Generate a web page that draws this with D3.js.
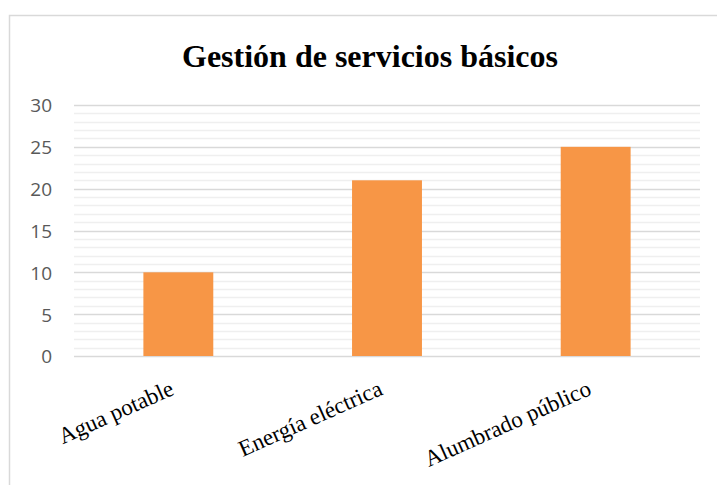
<!DOCTYPE html>
<html>
<head>
<meta charset="utf-8">
<script src="https://cdn.jsdelivr.net/npm/d3@7"></script>
<style>
  body { margin: 0; background: #fff; }
</style>
</head>
<body>
<svg width="717" height="485"></svg>
<script>
var categories = ["Agua potable", "Energía eléctrica", "Alumbrado público"];
var values = [10, 21, 25];
var majorTicks = [0, 5, 10, 15, 20, 25, 30];
var minorTicks = d3.range(0, 31, 1);
var title = "Gestión de servicios básicos";

var svg = d3.select("svg"),
  width = +svg.attr("width"),
  height = +svg.attr("height");

// chart frame
svg.append("rect")
  .attr("x", 9.5).attr("y", 15.5)
  .attr("width", 740).attr("height", 500)
  .attr("fill", "white")
  .attr("stroke", "#d9d9d9")
  .attr("stroke-width", 1.5);

var plotLeft = 74, plotRight = 700, plotTop = 105, plotBottom = 356;

var x = d3.scaleBand().domain(categories).range([plotLeft, plotRight]).paddingInner(0.665).paddingOuter(0.3325);
var y = d3.scaleLinear().domain([0, 30]).range([plotBottom, plotTop]);

// minor grid
svg.append("g").selectAll("line")
  .data(minorTicks.filter(d => d % 5 != 0))
  .enter().append("line")
  .attr("x1", plotLeft).attr("x2", plotRight)
  .attr("y1", d => Math.round(y(d)) + 0.5).attr("y2", d => Math.round(y(d)) + 0.5)
  .attr("stroke", "#efefef").attr("stroke-width", 1.5);

// major grid
svg.append("g").selectAll("line")
  .data(majorTicks)
  .enter().append("line")
  .attr("x1", plotLeft).attr("x2", plotRight)
  .attr("y1", d => Math.round(y(d)) + 0.5).attr("y2", d => Math.round(y(d)) + 0.5)
  .attr("stroke", "#d9d9d9").attr("stroke-width", 1.5);

// bars
svg.append("g").selectAll("rect")
  .data(values)
  .enter().append("rect")
  .attr("x", (d, i) => x(categories[i]))
  .attr("y", d => y(d))
  .attr("width", x.bandwidth())
  .attr("height", d => y(0) - y(d))
  .attr("fill", "#f79646");

// y axis labels
var yAxis = svg.append("g")
  .attr("transform", "translate(52,0)")
  .call(d3.axisLeft(y).tickValues(majorTicks).tickSize(0).tickPadding(0));
yAxis.select(".domain").remove();
yAxis.selectAll("text")
  .attr("font-family", "'Open Sans', 'Liberation Sans', sans-serif")
  .attr("font-size", 19)
  .attr("fill", "#595959")
  .attr("dy", "0.36em");

// x labels, rotated
svg.append("g").selectAll("text")
  .data(categories)
  .enter().append("text")
  .attr("transform", d => "translate(" + (x(d) + x.bandwidth() / 2 - 3) + ",394) rotate(-24)")
  .attr("text-anchor", "end")
  .attr("font-family", "'Liberation Serif', 'Times New Roman', serif")
  .attr("font-size", 23)
  .attr("fill", "#000")
  .text(d => d);

// title
svg.append("text")
  .attr("x", 370).attr("y", 67)
  .attr("text-anchor", "middle")
  .attr("font-family", "'Liberation Serif', 'Times New Roman', serif")
  .attr("font-weight", "bold")
  .attr("font-size", 32)
  .attr("fill", "#000")
  .text(title);
</script>
</body>
</html>
